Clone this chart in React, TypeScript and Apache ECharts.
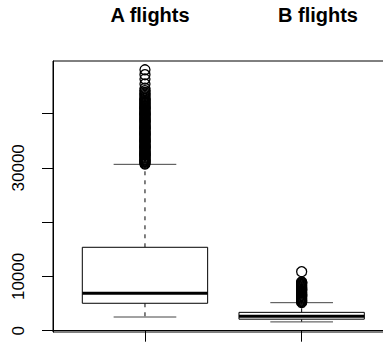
import React, { useEffect, useRef } from "react";
import * as echarts from "echarts";

// Box statistics: [position, lower whisker, Q1, median, Q3, upper whisker]
const groups = ["A flights", "B flights"];
const aStats = [1, 2520, 5050, 6890, 15360, 30640];
const bStats = [2, 1620, 2120, 2650, 3380, 5160];

// Outliers
const aOutliers = [
  30700, 30840, 31010, 31150, 31290, 31470, 31620, 31790, 31940, 32100,
  32270, 32420, 32590, 32740, 32910, 33070, 33230, 33390, 33560, 33700,
  33880, 34030, 34190, 34350, 34510, 34670, 34830, 34990, 35150, 35310,
  35470, 35630, 35800, 35950, 36110, 36270, 36430, 36590, 36750, 36910,
  37070, 37230, 37390, 37550, 37710, 37870, 38030, 38190, 38350, 38510,
  38670, 38830, 38990, 39150, 39310, 39470, 39630, 39790, 39950, 40110,
  40270, 40430, 40590, 40750, 40910, 41090, 41270, 41450, 41640, 41830,
  42020, 42220, 42420, 42630, 42850, 43080, 43320, 43580, 43870, 44200,
  44650, 45450, 46350, 47150, 48050,
];
const bOutliers = [
  5180, 5340, 5500, 5660, 5820, 5980, 6140, 6300, 6460, 6620,
  6780, 6940, 7100, 7260, 7420, 7580, 7740, 7900, 8060, 8220,
  8380, 8540, 8700, 8860, 8980, 10870,
];

const yTicks = [0, 10000, 20000, 30000, 40000];
const yLabels = [0, 10000, 30000];

export default function App() {
  const ref = useRef<HTMLDivElement>(null);

  useEffect(() => {
    if (!ref.current) return;
    const chart = echarts.init(ref.current, null, { renderer: "svg" });
    const font = "'Liberation Sans', Arial, Helvetica, sans-serif";

    const renderBox = (params: any, api: any) => {
      const x = api.value(0);
      const lo = api.value(1);
      const q1 = api.value(2);
      const med = api.value(3);
      const q3 = api.value(4);
      const hi = api.value(5);
      const pLo = api.coord([x, lo]);
      const pQ1 = api.coord([x, q1]);
      const pMed = api.coord([x, med]);
      const pQ3 = api.coord([x, q3]);
      const pHi = api.coord([x, hi]);
      const left = api.coord([x - 0.4, q1])[0];
      const right = api.coord([x + 0.4, q1])[0];
      const capL = api.coord([x - 0.2, q1])[0];
      const capR = api.coord([x + 0.2, q1])[0];
      const dashed = { stroke: "#000", lineWidth: 1, lineDash: [4, 5] };
      return {
        type: "group",
        children: [
          { type: "line", shape: { x1: pQ3[0], y1: pQ3[1], x2: pHi[0], y2: pHi[1] }, style: dashed },
          { type: "line", shape: { x1: pQ1[0], y1: pQ1[1], x2: pLo[0], y2: pLo[1] }, style: dashed },
          { type: "line", shape: { x1: capL, y1: pHi[1], x2: capR, y2: pHi[1] }, style: { stroke: "#444", lineWidth: 1 } },
          { type: "line", shape: { x1: capL, y1: pLo[1], x2: capR, y2: pLo[1] }, style: { stroke: "#444", lineWidth: 1 } },
          {
            type: "rect",
            shape: { x: left, y: pQ3[1], width: right - left, height: pQ1[1] - pQ3[1] },
            style: { stroke: "#000", lineWidth: 1, fill: "#fff" },
          },
          { type: "line", shape: { x1: left, y1: pMed[1], x2: right, y2: pMed[1] }, style: { stroke: "#000", lineWidth: 3 } },
        ],
      };
    };

    const option: any = {
      animation: false,
      grid: {
        left: 53,
        top: 61,
        width: 340,
        height: 271,
        show: true,
        borderColor: "#000",
        borderWidth: 1,
        backgroundColor: "transparent",
      },
      xAxis: {
        type: "value",
        min: 0.413,
        max: 2.583,
        axisLine: { show: true, lineStyle: { color: "#000", width: 1 } },
        axisTick: { show: true, customValues: [1, 2], length: 11, inside: false, lineStyle: { color: "#000" } },
        axisLabel: { show: false },
        splitLine: { show: false },
      },
      yAxis: {
        type: "value",
        min: -240,
        max: 49670,
        axisLine: { show: true, lineStyle: { color: "#000", width: 1 } },
        axisTick: { show: true, customValues: yTicks, length: 11, inside: false, lineStyle: { color: "#000" } },
        axisLabel: {
          show: true,
          customValues: yLabels,
          formatter: (v: number) => String(v),
          rotate: 90,
          margin: 26,
          fontSize: 17,
          color: "#000",
          fontFamily: font,
        },
        splitLine: { show: false },
      },
      graphic: [
        {
          type: "text",
          x: 150,
          y: 15,
          style: { text: groups[0], font: `bold 20px ${font}`, fill: "#000", textAlign: "center", textVerticalAlign: "middle" },
        },
        {
          type: "text",
          x: 318,
          y: 15,
          style: { text: groups[1], font: `bold 20px ${font}`, fill: "#000", textAlign: "center", textVerticalAlign: "middle" },
        },
      ],
      series: [
        {
          type: "custom",
          renderItem: renderBox,
          encode: { x: 0, y: [1, 2, 3, 4, 5] },
          data: [aStats, bStats],
          clip: false,
          silent: true,
        },
        {
          type: "scatter",
          silent: true,
          symbol: "circle",
          symbolSize: 10,
          itemStyle: { color: "rgba(0,0,0,0)", borderColor: "#000", borderWidth: 1.3, opacity: 1 },
          data: [
            ...aOutliers.map((v) => [aStats[0], v]),
            ...bOutliers.map((v) => [bStats[0], v]),
          ],
        },
      ],
    };
    chart.setOption(option);
    return () => chart.dispose();
  }, []);

  return (
    <div
      style={{ position: "absolute", left: 0, top: 0, width: 383, height: 345, overflow: "hidden" }}
    >
      <div ref={ref} style={{ width: 400, height: 345 }} />
    </div>
  );
}
